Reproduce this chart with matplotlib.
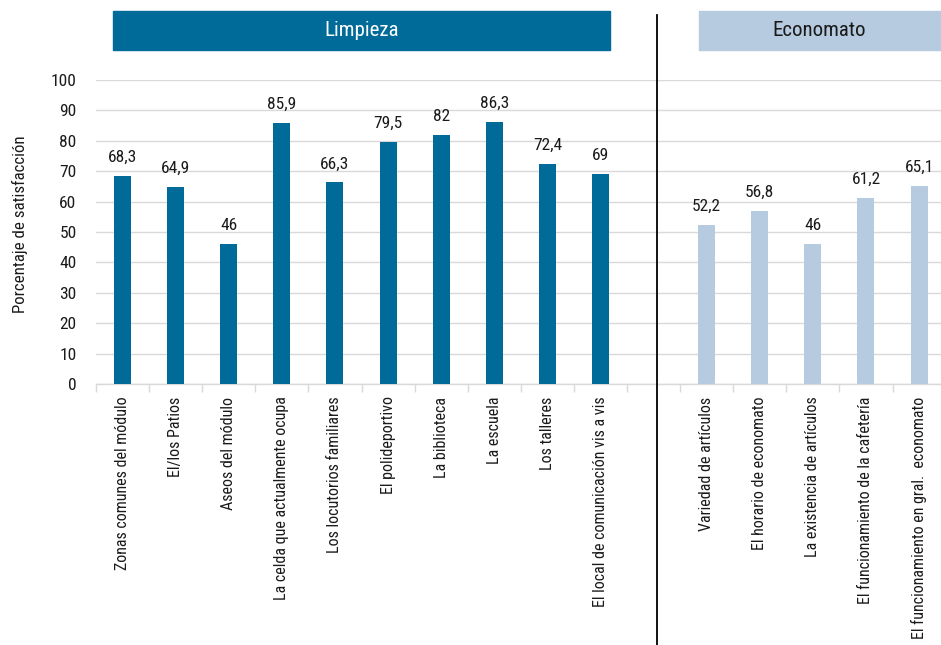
import matplotlib
matplotlib.use("Agg")
import matplotlib.pyplot as plt
from matplotlib.patches import Rectangle

plt.rcParams['font.family'] = ['Roboto Condensed', 'DejaVu Sans']

# Satisfaction percentages by service area
limpieza_labels = [
    "Zonas comunes del módulo",
    "El/los Patios",
    "Aseos del módulo",
    "La celda que actualmente ocupa",
    "Los locutorios familiares",
    "El polideportivo",
    "La biblioteca",
    "La escuela",
    "Los talleres",
    "El local de comunicación vis a vis",
]
limpieza_values = [68.3, 64.9, 46, 85.9, 66.3, 79.5, 82, 86.3, 72.4, 69]

economato_labels = [
    "Variedad de artículos",
    "El horario de economato",
    "La existencia de artículos",
    "El funcionamiento de la cafetería",
    "El funcionamiento en gral.  economato",
]
economato_values = [52.2, 56.8, 46, 61.2, 65.1]

y_ticks = [0, 10, 20, 30, 40, 50, 60, 70, 80, 90, 100]

DARK = "#006a98"
LIGHT = "#b6cae0"
GRID = "#d9d9d9"
TEXT = "#1a1a1a"

W, H = 941, 645
fig = plt.figure(figsize=(W / 100, H / 100), dpi=100)

slot = 53.1
ax_left, ax_right = 96, 96 + 16 * slot
ax_top, ax_bottom = 80, 384
ax = fig.add_axes([ax_left / W, (H - ax_bottom) / H,
                   (ax_right - ax_left) / W, (ax_bottom - ax_top) / H])

x_l = list(range(len(limpieza_values)))
x_e = [len(limpieza_values) + 1 + i for i in range(len(economato_values))]

ax.bar(x_l, limpieza_values, width=0.32, color=DARK, zorder=3)
ax.bar(x_e, economato_values, width=0.32, color=LIGHT, zorder=3)


def fmt(v):
    s = f"{v:.1f}".replace(".", ",")
    return s[:-2] if s.endswith(",0") else s


for xs, vals in ((x_l, limpieza_values), (x_e, economato_values)):
    for x, v in zip(xs, vals):
        ax.annotate(fmt(v), (x, v), xytext=(0, 8), textcoords="offset points",
                    ha="center", va="bottom", fontsize=12.5, color=TEXT)

ax.set_xlim(-0.5, 15.5)
ax.set_ylim(0, 100)
ax.set_yticks(y_ticks)
ax.yaxis.grid(True, color=GRID, linewidth=1, zorder=0)
ax.set_axisbelow(True)
for s in ("top", "right", "left"):
    ax.spines[s].set_visible(False)
ax.spines["bottom"].set_color(GRID)
ax.spines["bottom"].set_linewidth(1)
ax.tick_params(axis="y", length=0, labelsize=12.5, pad=14, labelcolor=TEXT)

# category labels at bar centres, tick marks at slot boundaries
ax.set_xticks(x_l + x_e)
ax.set_xticklabels(limpieza_labels + economato_labels, rotation=90,
                   fontsize=11.5, color=TEXT, va="top", ha="center")
ax.tick_params(axis="x", which="major", length=0, pad=9)
ax.set_xticks([i - 0.5 for i in range(17)], minor=True)
ax.tick_params(axis="x", which="minor", length=6, color=GRID, width=1)

ax.set_ylabel("Porcentaje de satisfacción", fontsize=12.2, color=TEXT)
ax.yaxis.set_label_coords(-0.080, 0.526)

# separator between the two groups
sep_x = 657 / W
fig.add_artist(plt.Line2D([sep_x, sep_x], [1 - 15 / H, 0], color="black",
                          linewidth=1.3, transform=fig.transFigure))

# group headers
fig.add_artist(Rectangle((113 / W, 1 - 50 / H), (610 - 113) / W, 39 / H,
                         transform=fig.transFigure, color=DARK))
fig.text((113 + 610) / 2 / W, 1 - 30 / H, "Limpieza", color="white",
         fontsize=15, ha="center", va="center")
fig.add_artist(Rectangle((699 / W, 1 - 50 / H), (945 - 699) / W, 39 / H,
                         transform=fig.transFigure, color=LIGHT))
fig.text(819 / W, 1 - 30 / H, "Economato", color=TEXT,
         fontsize=15, ha="center", va="center")

fig.savefig("out.png", dpi=100)
